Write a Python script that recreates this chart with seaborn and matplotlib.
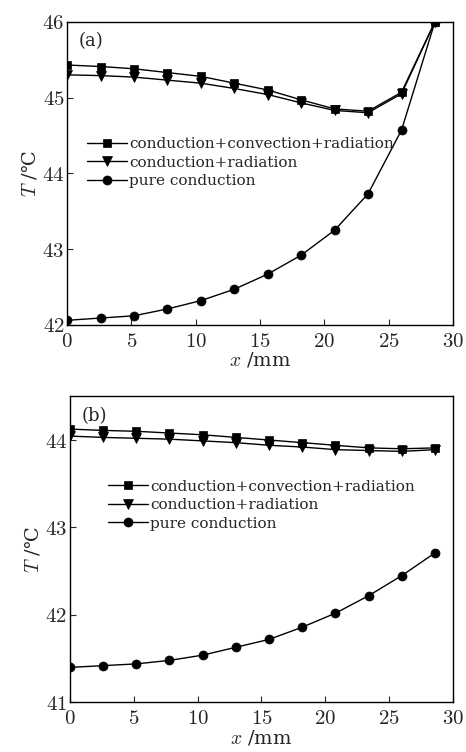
import matplotlib
matplotlib.use("Agg")
import matplotlib.pyplot as plt
from matplotlib.ticker import FuncFormatter
import seaborn as sns
import pandas as pd

x_mm = [0, 2.6, 5.2, 7.8, 10.4, 13.0, 15.6, 18.2, 20.8, 23.4, 26.0, 28.6]

a_ccr = [45.43, 45.41, 45.38, 45.33, 45.28, 45.19, 45.10, 44.97, 44.85, 44.82, 45.07, 46.00]
a_cr = [45.30, 45.29, 45.27, 45.23, 45.19, 45.12, 45.04, 44.93, 44.83, 44.80, 45.05, 46.00]
a_pc = [42.06, 42.09, 42.12, 42.21, 42.32, 42.47, 42.67, 42.92, 43.25, 43.73, 44.57, 46.00]

b_ccr = [44.125, 44.11, 44.10, 44.08, 44.06, 44.03, 44.00, 43.97, 43.94, 43.91, 43.90, 43.91]
b_cr = [44.045, 44.03, 44.02, 44.01, 43.99, 43.97, 43.94, 43.92, 43.89, 43.88, 43.87, 43.89]
b_pc = [41.40, 41.42, 41.44, 41.48, 41.54, 41.63, 41.72, 41.86, 42.02, 42.22, 42.45, 42.71]

labels = ["conduction+convection+radiation", "conduction+radiation", "pure conduction"]
markers = ["s", "v", "o"]
msizes = [5.5, 6.5, 6.5]

x_ticks = [0, 5, 10, 15, 20, 25, 30]
a_yticks = [42, 43, 44, 45, 46]
b_yticks = [41, 42, 43, 44]

sns.set_style("ticks")
plt.rcParams["font.family"] = ["DejaVu Serif"]
plt.rcParams["mathtext.fontset"] = "cm"
plt.rcParams["xtick.direction"] = "in"
plt.rcParams["ytick.direction"] = "in"

fig = plt.figure(figsize=(4.66, 7.52), dpi=100)
ax_a = fig.add_axes([0.144, 0.568, 0.828, 0.403])
ax_b = fig.add_axes([0.150, 0.066, 0.822, 0.407])

fmt = FuncFormatter(lambda v, p: r"$\mathrm{%d}$" % round(v))


def draw(ax, series, ylim, yticks, tag, leg_anchor):
    for ys, lab, mk, ms in zip(series, labels, markers, msizes):
        df = pd.DataFrame({"x": x_mm, "T": ys})
        sns.lineplot(data=df, x="x", y="T", ax=ax, color="k", marker=mk,
                     markersize=ms, markeredgecolor="k", markeredgewidth=0.5,
                     linewidth=1.0, label=lab)
    ax.set_xlim(0, 30)
    ax.set_ylim(*ylim)
    ax.set_xticks(x_ticks)
    ax.set_yticks(yticks)
    ax.xaxis.set_major_formatter(fmt)
    ax.yaxis.set_major_formatter(fmt)
    ax.tick_params(axis="both", labelsize=15, length=4, width=0.8,
                   top=False, right=False)
    ax.tick_params(axis="x", pad=5)
    ax.tick_params(axis="y", pad=2)
    for s in ax.spines.values():
        s.set_visible(True)
        s.set_linewidth(1.0)
        s.set_color("k")
    ax.set_xlabel(r"$x$ /mm", fontsize=14, labelpad=0)
    ax.set_ylabel(r"$T$ /℃", fontsize=14, labelpad=2)
    ax.text(0.03, 0.965, tag, transform=ax.transAxes, fontsize=13,
            ha="left", va="top")
    ax.legend(loc="center left", bbox_to_anchor=leg_anchor, frameon=False,
              fontsize=11, handlelength=2.6, handletextpad=0.15,
              labelspacing=0.3, borderpad=0, borderaxespad=0)


draw(ax_a, [a_ccr, a_cr, a_pc], (42, 46), a_yticks, "(a)", (0.052, 0.535))
draw(ax_b, [b_ccr, b_cr, b_pc], (41, 44.5), b_yticks, "(b)", (0.099, 0.644))

fig.savefig("out.png", dpi=100)
